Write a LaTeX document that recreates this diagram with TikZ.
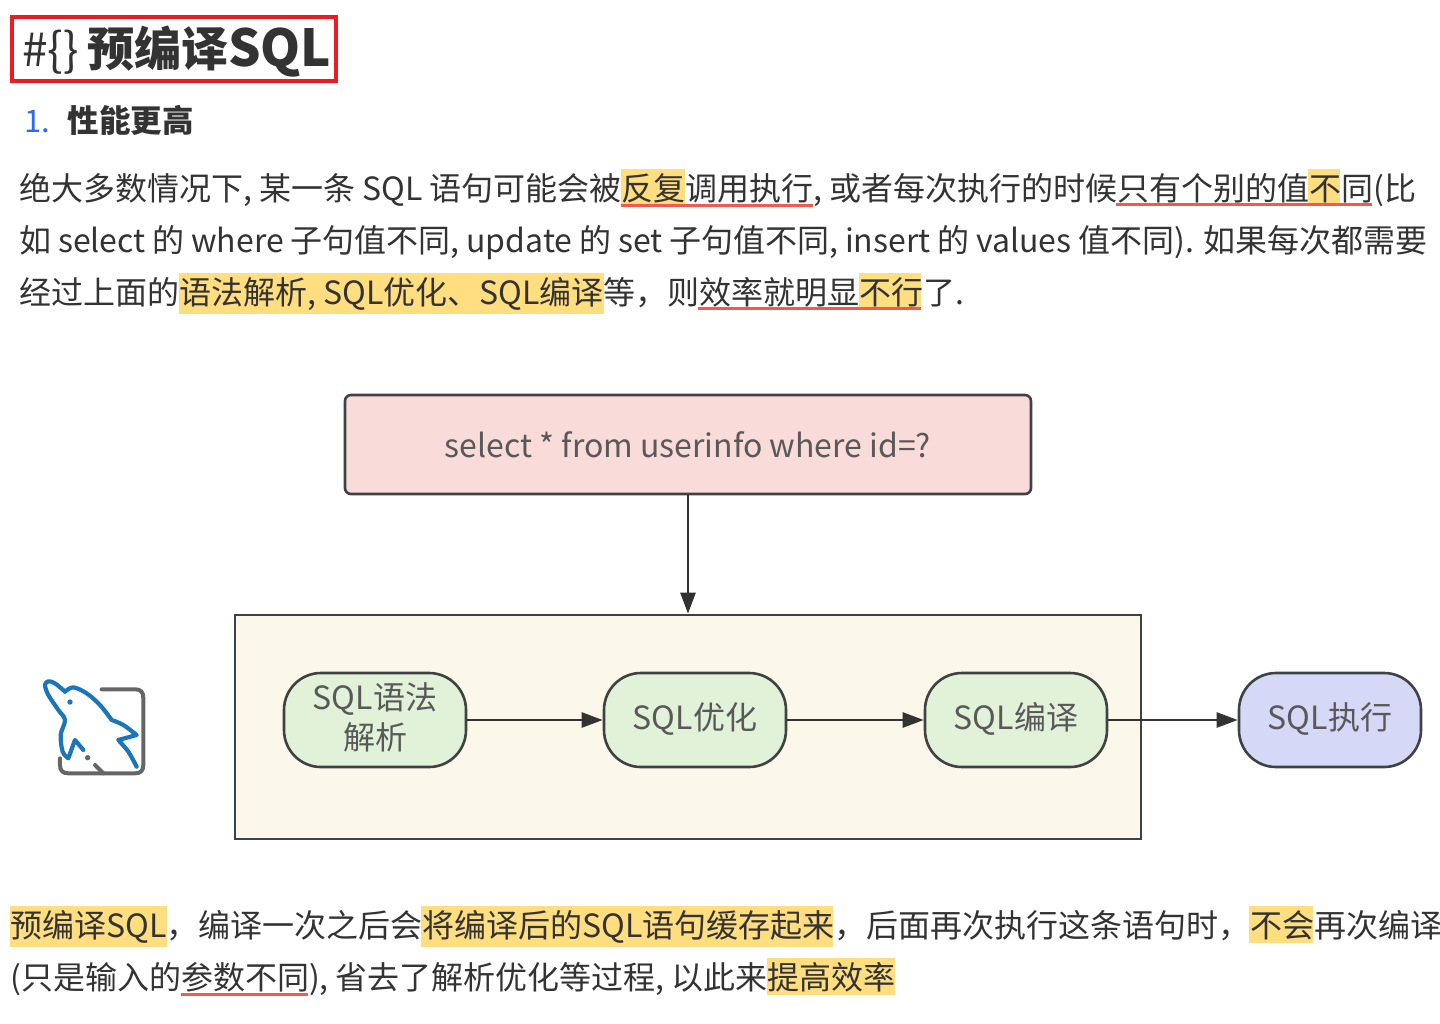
\documentclass[tikz,border=0pt]{standalone}
\usepackage{fontspec}
\setmainfont{Noto Sans CJK SC}
\usetikzlibrary{arrows.meta}

\definecolor{inkgray}{HTML}{333333}
\definecolor{boxgray}{HTML}{3F4245}
\definecolor{marker}{HTML}{FFDE80}
\definecolor{redline}{HTML}{F5594E}
\definecolor{framered}{HTML}{ED1C24}
\definecolor{numblue}{HTML}{2F6BF0}
\definecolor{dolphin}{HTML}{1B75BB}
\definecolor{sqlpink}{HTML}{F9DBDA}
\definecolor{servercream}{HTML}{FBF7E9}
\definecolor{stepgreen}{HTML}{E2F2D9}
\definecolor{stepviolet}{HTML}{D5D8F7}

\tikzset{
    bodytext/.style={anchor=base west, inner sep=0pt, text=inkgray, font=\fontsize{32}{36}\selectfont},
    flowbox/.style={draw=boxgray, line width=2.6pt, rounded corners=37pt, minimum width=182pt, minimum height=94pt,
        inner sep=0pt, align=center, text depth=7.5pt, text=black!65, font=\fontsize{32}{40}\selectfont},
    flowline/.style={draw=inkgray, line width=2.6pt, -{Triangle[length=21pt, width=15pt]}},
    hilite/.style={fill=marker},
    redrule/.style={fill=redline},
}

\begin{document}
\begin{tikzpicture}[x=1pt, y=-1pt]

    \useasboundingbox (0,0) rectangle (1440,1023);

    % 黄色高亮
    \fill[hilite] (621,169) rectangle (685,206);
    \fill[hilite] (1308,169) rectangle (1340,205);
    \fill[hilite] (179,273) rectangle (604,314);
    \fill[hilite] (859,273) rectangle (921,309);
    \fill[hilite] (10,906) rectangle (167,947);
    \fill[hilite] (421,906) rectangle (833,947);
    \fill[hilite] (1249,906) rectangle (1313,943);
    \fill[hilite] (767,958) rectangle (895,995);

    % 红色下划线
    \fill[redrule] (621,203.5) rectangle (813,206.5);
    \fill[redrule] (1116,203) rectangle (1372,206);
    \fill[redrule] (698,307) rectangle (921,310);
    \fill[redrule] (181,993) rectangle (308,996);

    % 标题
    \draw[draw=framered, line width=3.8pt] (12,17) rectangle (336,81);
    \node[bodytext, font=\fontsize{46}{50}\selectfont] (titlemark) at (22,66) {\#\{\}};
    \node[bodytext, font=\fontsize{47}{50}\selectfont\bfseries] (titletext) at (87,66) {预编译{\fontsize{51}{50}\selectfont SQL}};

    % 小标题
    \node[bodytext, text=numblue, font=\fontsize{31}{36}\selectfont] (itemnum) at (24,132) {1.};
    \node[bodytext, font=\fontsize{31.5}{36}\selectfont\bfseries] (itemtext) at (67.5,132) {性能更高};

    % 第一段
    \node[bodytext] (lineA) at (19,200) {绝大多数情况下, 某一条 SQL 语句可能会被反复调用执行, 或者每次执行的时候只有个别的值不同(比};
    \node[bodytext] (lineB) at (19,252) {\spaceskip=6.85pt 如 select 的 where 子句值不同, update 的 set 子句值不同, insert 的 values 值不同). 如果每次都需要};
    \node[bodytext] (lineC) at (19,304) {经过上面的语法解析, SQL优化、SQL编译等，则效率就明显不行了.};

    % 流程图
    \node[draw=boxgray, fill=sqlpink, line width=2.6pt, rounded corners=6pt, minimum width=686pt, minimum height=99pt,
        inner sep=0pt, text=black!65, font=\fontsize{32}{40}\selectfont] (sqlbox) at (688,444.5) {select * from userinfo where id=?};
    \node[draw=boxgray, fill=servercream, line width=2.6pt, minimum width=906pt, minimum height=224pt] (serverbox) at (688,727) {};

    \node[flowbox, fill=stepgreen] (parse) at (375,720) {SQL语法\\解析};
    \node[flowbox, fill=stepgreen] (optimize) at (695,720) {SQL优化};
    \node[flowbox, fill=stepgreen] (compile) at (1016,720) {SQL编译};
    \node[flowbox, fill=stepviolet] (execute) at (1330,720) {SQL执行};

    \draw[flowline] (sqlbox) -- (serverbox);
    \draw[flowline] (parse) -- (optimize);
    \draw[flowline] (optimize) -- (compile);
    \draw[flowline] (compile) -- (execute);

    % 海豚图标
    \begin{scope}[shift={(20,660)}, x=0.3333pt, y=-0.3333pt, line cap=round, line join=round]
        \draw[black!60, line width=4pt] (245,88) -- (345,88) .. controls (362,88) and (370,96) .. (370,113) -- (370,315)
            .. controls (370,332) and (362,340) .. (345,340) -- (250,340) -- (225,315);
        \draw[black!60, line width=4pt] (120,295) -- (120,315) .. controls (120,332) and (128,340) .. (145,340) -- (250,340);
        \fill[black!60] (203,293) circle (2.7pt);
        \draw[dolphin, line width=4.2pt] plot[smooth, tension=0.55] coordinates {(135,95) (160,82) (200,100) (240,135) (275,180)}
            -- plot[smooth, tension=0.55] coordinates {(275,180) (310,195) (350,225)} -- (295,240)
            -- plot[smooth, tension=0.5] coordinates {(295,240) (325,275) (350,320)};
        \draw[dolphin, line width=4.2pt] plot[smooth, tension=0.55] coordinates {(135,95) (105,70) (85,64) (75,75) (85,105) (115,150) (135,180) (122,225) (128,275) (145,295)}
            -- (165,240) -- (190,270);
        \fill[dolphin] (150,126) circle (2.7pt);
    \end{scope}

    % 第二段
    \node[bodytext] (lineD) at (10,937) {预编译SQL，编译一次之后会将编译后的SQL语句缓存起来，后面再次执行这条语句时，不会再次编译};
    \node[bodytext] (lineE) at (10,989) {(只是输入的参数不同), 省去了解析优化等过程, 以此来提高效率};

\end{tikzpicture}
\end{document}
